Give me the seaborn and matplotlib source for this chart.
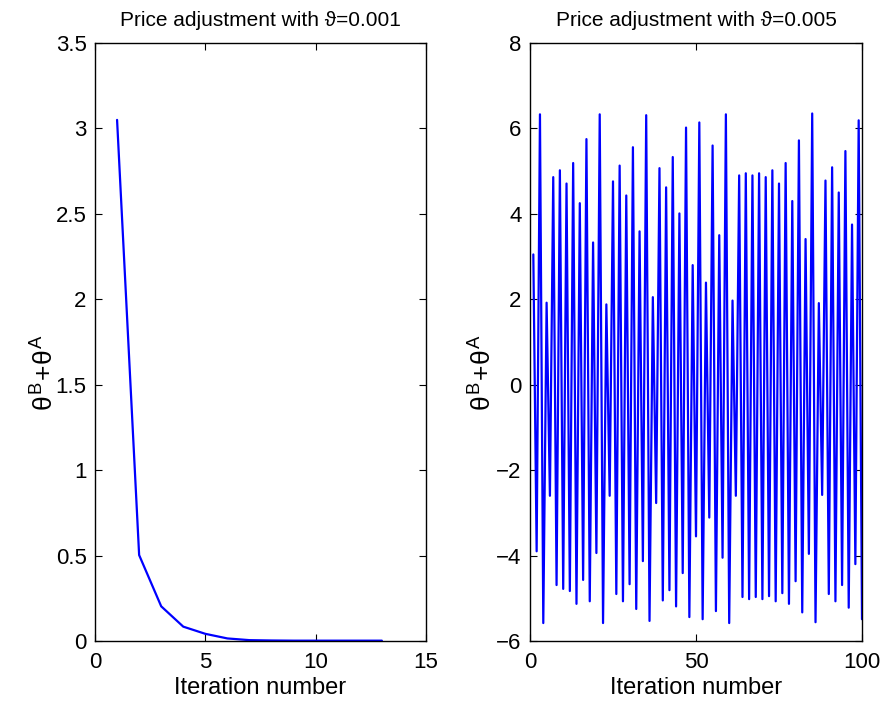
import numpy as np
import pandas as pd
import matplotlib
matplotlib.use("Agg")
import matplotlib.pyplot as plt
import seaborn as sns

# ---- data ----
iter_small = list(range(1, 14))
theta_small = [3.05, 0.503, 0.203, 0.084, 0.042, 0.015, 0.005, 0.003, 0.002, 0.002, 0.002, 0.002, 0.002]

iter_large = list(range(1, 101))
theta_large = [
    3.05, -3.9, 6.33, -5.58, 1.92, -2.6, 4.86, -4.69, 5.02, -4.78,
    4.71, -4.83, 5.19, -5.13, 4.25, -4.57, 5.75, -5.07, 3.33, -3.94,
    6.33, -5.58, 1.88, -2.6, 4.76, -4.9, 5.13, -5.07, 4.43, -4.67,
    5.56, -5.25, 3.59, -4.13, 6.31, -5.53, 2.05, -2.77, 5.07, -5.05,
    4.62, -4.81, 5.33, -5.19, 4.01, -4.41, 6.02, -5.44, 2.8, -3.55,
    6.14, -5.49, 2.39, -3.11, 5.6, -5.3, 3.5, -4.05, 6.33, -5.58,
    1.97, -2.6, 4.9, -4.97, 4.95, -5.02, 4.9, -4.97, 4.95, -5.02,
    4.86, -4.95, 5.02, -5.07, 4.71, -4.88, 5.19, -5.13, 4.3, -4.6,
    5.72, -5.33, 3.41, -3.96, 6.35, -5.56, 1.91, -2.58, 4.78, -4.9,
    5.09, -5.07, 4.5, -4.69, 5.47, -5.22, 3.75, -4.2, 6.19, -5.49,
]

titles = ["Price adjustment with \u03d1=0.001", "Price adjustment with \u03d1=0.005"]
xlabel = "Iteration number"
ylabel = r"$\theta^{B}\!+\!\theta^{A}$"

left_xticks = [0, 5, 10, 15]
left_yticks = [0, 0.5, 1, 1.5, 2, 2.5, 3, 3.5]
left_yticklabels = ["0", "0.5", "1", "1.5", "2", "2.5", "3", "3.5"]
right_xticks = [0, 50, 100]
right_yticks = [-6, -4, -2, 0, 2, 4, 6, 8]

# ---- style ----
sns.set_style("ticks")
plt.rcParams["font.family"] = ["Liberation Sans", "DejaVu Sans"]
plt.rcParams["mathtext.fontset"] = "custom"
plt.rcParams["mathtext.rm"] = "Liberation Sans"
plt.rcParams["mathtext.it"] = "Liberation Sans"
plt.rcParams["mathtext.bf"] = "Liberation Sans:bold"
for k in ["text.color", "axes.labelcolor", "xtick.color", "ytick.color", "axes.edgecolor"]:
    plt.rcParams[k] = "black"

fig = plt.figure(figsize=(8.83, 7.03), dpi=100)
ax1 = fig.add_axes([95 / 883, 1 - 641 / 703, 331 / 883, 598 / 703])
ax2 = fig.add_axes([530 / 883, 1 - 641 / 703, 332 / 883, 598 / 703])

df1 = pd.DataFrame({"it": iter_small, "v": theta_small})
df2 = pd.DataFrame({"it": iter_large, "v": theta_large})

sns.lineplot(data=df1, x="it", y="v", ax=ax1, color=(0, 0, 1), linewidth=1.6)
sns.lineplot(data=df2, x="it", y="v", ax=ax2, color=(0, 0, 1), linewidth=1.6)

ax1.set_xlim(0, 15)
ax1.set_ylim(0, 3.5)
ax1.set_xticks(left_xticks)
ax1.set_yticks(left_yticks)
ax1.set_yticklabels(left_yticklabels)

ax2.set_xlim(0, 100)
ax2.set_ylim(-6, 8)
ax2.set_xticks(right_xticks)
ax2.set_yticks(right_yticks)

for ax, t in zip([ax1, ax2], titles):
    ax.set_title(t, fontsize=15, pad=12, color="black")
    ax.set_xlabel(xlabel, fontsize=17, labelpad=3, color="black")
    ax.set_ylabel(ylabel, fontsize=19, color="black")
    ax.tick_params(direction="in", length=5, width=0.8, labelsize=16,
                   top=True, right=True, color="black", labelcolor="black")
    ax.tick_params(axis="x", pad=8)
    ax.tick_params(axis="y", pad=6)
    for s in ax.spines.values():
        s.set_visible(True)
        s.set_linewidth(1.0)
        s.set_color("black")

ax1.yaxis.set_label_coords(-0.11, 0.45)
ax2.yaxis.set_label_coords(-0.10, 0.45)

fig.savefig("out.png", dpi=100)
